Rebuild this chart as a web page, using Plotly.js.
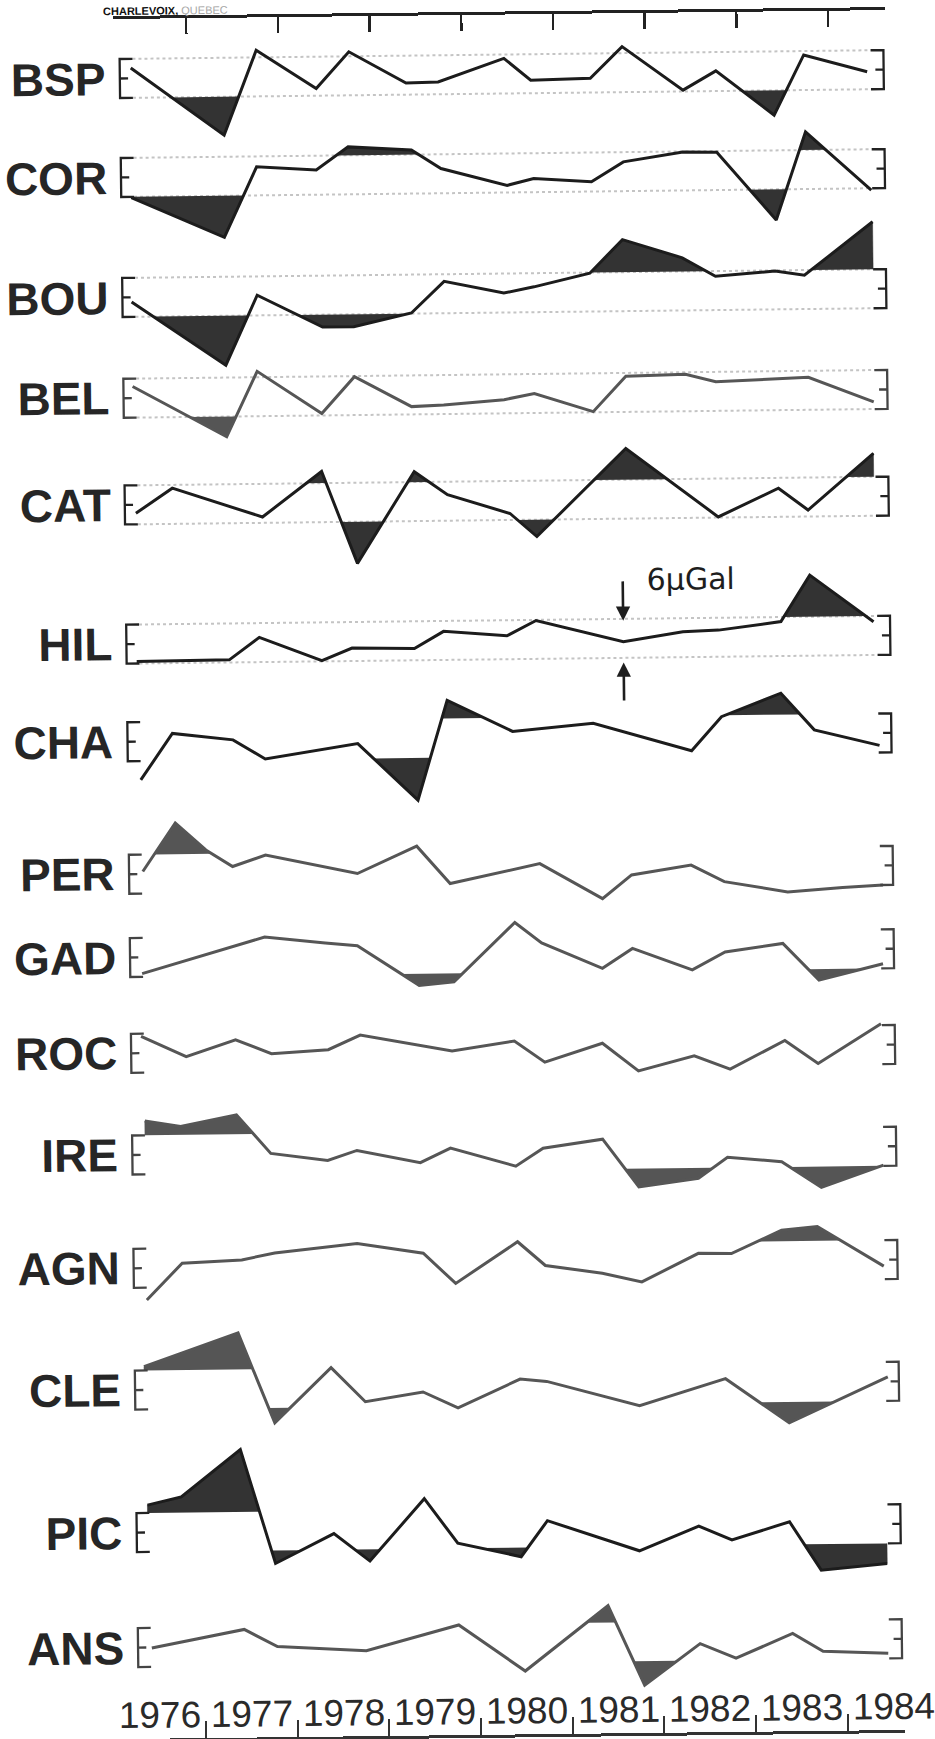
<!DOCTYPE html>
<html>
<head>
<meta charset="utf-8">
<script src="https://cdn.plot.ly/plotly-3.0.1.min.js"></script>
<style>
html,body{margin:0;padding:0;background:#fff;overflow:hidden;}
#wrap{width:935px;height:1739px;transform:rotate(-0.665deg);transform-origin:467.5px 869.5px;background:#fff;}
#chart{width:935px;height:1739px;}
</style>
</head>
<body>
<div id="wrap"><div id="chart"></div></div>
<script>
// ---------------- data (years, gravity change in µGal) ----------------
const stationNames = ['BSP','COR','BOU','BEL','CAT','HIL','CHA','PER','GAD','ROC','IRE','AGN','CLE','PIC','ANS'];
const yearLabels = ['1976','1977','1978','1979','1980','1981','1982','1983','1984'];
const yearTicks = [1977,1978,1979,1980,1981,1982,1983,1984];

const BSP_t = [1976.39,1977.40,1977.76,1978.41,1978.77,1979.39,1979.74,1980.46,1980.75,1981.40,1981.75,1982.41,1982.77,1983.40,1983.73,1984.42];
const BSP_g = [1.6,-8.9,4.1,-1.9,3.7,-1.2,-1.1,2.4,-1.0,-0.8,4.0,-2.8,0.1,-6.8,2.4,-0.3];
const BSP_s = [1,13];

const COR_t = [1976.38,1977.39,1977.75,1978.40,1978.75,1979.44,1979.76,1980.48,1980.77,1981.40,1981.75,1982.40,1982.77,1983.41,1983.74,1984.45];
const COR_g = [-3.1,-9.4,1.4,0.8,4.3,3.7,0.8,-1.9,-0.9,-1.5,1.5,2.9,2.8,-7.7,5.8,-3.3];
const COR_s = [0,1,4,5,13,14];

const BOU_t = [1976.37,1977.39,1977.74,1978.45,1978.79,1979.42,1979.78,1980.43,1980.76,1981.37,1981.73,1982.38,1982.74,1983.39,1983.71,1984.46];
const BOU_g = [-0.7,-10.6,0.1,-4.9,-4.9,-2.9,1.9,0.0,0.9,2.9,8.0,5.1,2.2,2.9,2.2,10.3];
const BOU_s = [1,3,4,10,11,15];

const BEL_t = [1976.37,1977.39,1977.73,1978.43,1978.79,1979.41,1979.76,1980.42,1980.75,1981.39,1981.75,1982.40,1982.73,1983.38,1983.74,1984.45];
const BEL_g = [1.8,-6.1,3.9,-2.7,2.9,-1.8,-1.6,-0.9,0.0,-2.9,2.5,2.7,1.5,1.8,2.0,-1.9];
const BEL_s = [1];

const CAT_t = [1976.39,1976.79,1977.77,1978.42,1978.80,1979.43,1979.79,1980.47,1980.76,1981.74,1982.74,1983.40,1983.72,1984.44];
const CAT_g = [-1.3,2.5,-2.1,4.8,-9.4,4.6,1.0,-2.0,-5.6,7.8,-2.9,1.4,-2.0,6.6];
const CAT_s = [3,4,5,8,9,13];

const HIL_t = [1976.38,1977.39,1977.72,1978.40,1978.73,1979.41,1979.73,1980.42,1980.74,1981.69,1982.34,1982.73,1983.41,1983.73,1984.42];
const HIL_g = [-2.7,-2.6,0.8,-2.9,-1.0,-1.2,1.4,0.6,2.9,-0.5,0.9,1.1,2.3,9.4,2.1];
const HIL_s = [13];

const CHA_t = [1976.41,1976.76,1977.42,1977.77,1978.78,1979.43,1979.76,1980.47,1981.35,1982.42,1982.75,1983.40,1983.76,1984.47];
const CHA_g = [-5.9,1.2,0.1,-2.9,-0.7,-9.5,5.8,0.9,2.0,-2.4,2.8,6.3,0.6,-1.9];
const CHA_s = [5,6,11];

const PER_t = [1976.42,1976.78,1977.11,1977.40,1977.76,1978.76,1979.41,1979.77,1980.75,1981.43,1981.75,1982.40,1982.76,1983.45,1984.05,1984.49];
const PER_g = [0.4,7.8,3.6,1.0,2.7,-0.3,3.8,-2.0,0.9,-4.6,-1.0,0.4,-2.2,-3.9,-3.3,-3.0];
const PER_s = [1];

const GAD_t = [1976.40,1977.74,1978.40,1978.75,1979.42,1979.80,1980.47,1980.76,1981.42,1981.75,1982.40,1982.76,1983.39,1983.78,1984.48];
const GAD_g = [-2.5,2.9,1.9,1.4,-4.8,-4.3,4.7,1.5,-2.5,0.5,-2.9,-0.2,1.0,-4.7,-2.3];
const GAD_s = [4,5,13];

const ROC_t = [1976.38,1976.87,1977.41,1977.80,1978.42,1978.77,1979.77,1980.45,1980.78,1981.41,1981.80,1982.41,1982.80,1983.40,1983.76,1984.45];
const ROC_g = [2.6,-0.6,1.9,-0.3,0.2,2.4,-0.2,1.2,-2.1,0.7,-3.6,-1.4,-3.5,0.8,-2.8,3.2];
const ROC_s = [];

const IRE_t = [1976.41,1976.80,1977.41,1977.78,1978.40,1978.72,1979.41,1979.74,1980.45,1980.75,1981.40,1981.79,1982.44,1982.76,1983.35,1983.78,1984.46];
const IRE_g = [5.2,4.3,6.0,0.0,-1.2,0.3,-1.7,0.5,-2.4,0.3,1.6,-5.8,-4.6,-1.4,-2.2,-6.2,-2.9];
const IRE_s = [0,1,2,11,12,15];

const AGN_t = [1976.41,1976.80,1977.45,1977.81,1978.71,1979.43,1979.78,1980.46,1980.76,1981.38,1981.81,1982.43,1982.79,1983.34,1983.73,1984.45];
const AGN_g = [-4.9,0.7,1.1,2.1,3.4,1.8,-2.9,3.4,-0.3,-1.6,-3.0,1.3,1.2,4.7,5.2,-1.0];
const AGN_s = [13,14];

const CLE_t = [1976.37,1977.40,1977.79,1978.41,1978.78,1979.41,1979.79,1980.47,1980.76,1981.77,1982.71,1983.40,1984.48];
const CLE_g = [3.6,8.6,-5.3,3.1,-2.2,-0.8,-3.3,1.0,0.6,-3.3,0.7,-6.2,0.7];
const CLE_s = [0,1,2,11];

const PIC_t = [1976.39,1976.76,1977.41,1977.78,1978.42,1978.81,1979.41,1979.77,1980.46,1980.75,1981.75,1982.40,1982.76,1983.39,1983.73,1984.45];
const PIC_g = [4.2,5.4,12.6,-5.0,-0.5,-4.8,4.7,-2.2,-4.4,1.1,-3.7,0.0,-2.2,0.5,-7.0,-6.1];
const PIC_s = [0,1,2,3,5,8,14,15];

const ANS_t = [1976.42,1977.43,1977.79,1978.76,1979.77,1980.49,1981.40,1981.79,1982.40,1982.79,1983.41,1983.74,1984.45];
const ANS_g = [-0.1,2.6,-0.1,-0.9,2.9,-4.3,5.6,-6.7,-0.4,-2.7,1.0,-1.8,-2.2];
const ANS_s = [6,7];

const BAND = 3;            // half-width of the bracket band, µGal
const SCALE_LABEL = '6μGal';
const TITLE_TEXT = 'CHARLEVOIX,';
const TITLE_TEXT2 = 'QUEBEC';

// ---------------- layout constants (positions / styles) ----------------
const FIG_W = 935, FIG_H = 1739, PX = 6.5;
const U0 = 123, U1 = 895, YR0 = 1976.204, YR1 = 1984.623;
const rowCenterPx = [74.5,173.5,293.5,394.3,501,640.2,737.8,870.3,953.6,1049.4,1151.1,1264.4,1386.2,1528.7,1643.7];
const rowDark = [true,true,true,false,true,true,true,false,false,false,false,false,false,true,false];
const rowDots = [true,true,true,true,true,true,false,false,false,false,false,false,false,false,false];
const BR_L = 1976.27, BR_R = 1984.60, BR_TICK = 0.14, BR_MID = 0.09;
const LABEL_RIGHT = 117;

const series = [
  {t: BSP_t, g: BSP_g, s: BSP_s}, {t: COR_t, g: COR_g, s: COR_s}, {t: BOU_t, g: BOU_g, s: BOU_s},
  {t: BEL_t, g: BEL_g, s: BEL_s}, {t: CAT_t, g: CAT_g, s: CAT_s}, {t: HIL_t, g: HIL_g, s: HIL_s},
  {t: CHA_t, g: CHA_g, s: CHA_s}, {t: PER_t, g: PER_g, s: PER_s}, {t: GAD_t, g: GAD_g, s: GAD_s},
  {t: ROC_t, g: ROC_g, s: ROC_s}, {t: IRE_t, g: IRE_g, s: IRE_s}, {t: AGN_t, g: AGN_g, s: AGN_s},
  {t: CLE_t, g: CLE_g, s: CLE_s}, {t: PIC_t, g: PIC_g, s: PIC_s}, {t: ANS_t, g: ANS_g, s: ANS_s}
];

// excursions of the line beyond +/-lim, as closed polygons
function excursions(t, g, lim, up) {
  const out = []; let cur = null;
  const outside = v => up ? v > lim : v < lim;
  for (let i = 0; i < t.length; i++) {
    if (outside(g[i])) {
      if (!cur) {
        cur = {x: [], y: [], idx: []};
        if (i === 0) { cur.x.push(t[0]); cur.y.push(lim); }
        else {
          const f = (lim - g[i-1]) / (g[i] - g[i-1]);
          cur.x.push(t[i-1] + f * (t[i] - t[i-1])); cur.y.push(lim);
        }
      }
      cur.x.push(t[i]); cur.y.push(g[i]); cur.idx.push(i);
    } else if (cur) {
      const f = (lim - g[i-1]) / (g[i] - g[i-1]);
      cur.x.push(t[i-1] + f * (t[i] - t[i-1])); cur.y.push(lim);
      out.push(cur); cur = null;
    }
  }
  if (cur) { cur.x.push(t[t.length-1]); cur.y.push(lim); out.push(cur); }
  return out;
}

const fills = [], lines = [], shapes = [], annotations = [];
const layout = {
  width: FIG_W, height: FIG_H,
  margin: {l: 0, r: 0, t: 0, b: 0, pad: 0},
  paper_bgcolor: '#ffffff', plot_bgcolor: 'rgba(0,0,0,0)',
  showlegend: false,
  font: {family: 'Liberation Sans, Arial, sans-serif', color: '#1e1e1e'},
  xaxis: {
    domain: [U0 / FIG_W, U1 / FIG_W], range: [YR0, YR1],
    anchor: 'free', position: 1 - 13 / FIG_H, side: 'top',
    showline: true, linewidth: 3, linecolor: '#222',
    ticks: 'inside', ticklen: 16, tickwidth: 2.5, tickcolor: '#222',
    tickmode: 'array', tickvals: yearTicks, showticklabels: false,
    showgrid: false, zeroline: false, fixedrange: true
  },
  xaxis2: {
    domain: [U0 / FIG_W, U1 / FIG_W], range: [YR0, YR1], overlaying: 'x',
    anchor: 'free', position: 1 - 1736 / FIG_H, side: 'bottom',
    showline: true, linewidth: 3, linecolor: '#333',
    ticks: 'inside', ticklen: 17, tickwidth: 2, tickcolor: '#333',
    tickmode: 'array', tickvals: yearTicks, showticklabels: false,
    showgrid: false, zeroline: false, fixedrange: true
  }
};

series.forEach((st, i) => {
  const yid = i === 0 ? 'y' : 'y' + (i + 1);
  const ykey = i === 0 ? 'yaxis' : 'yaxis' + (i + 1);
  const c = rowCenterPx[i];
  const up = Math.min(100, c - 1), dn = Math.min(100, FIG_H - 1 - c);
  layout[ykey] = {
    domain: [Math.max(0, 1 - (c + dn) / FIG_H), Math.min(1, 1 - (c - up) / FIG_H)],
    range: [-dn / PX, up / PX], visible: false, fixedrange: true, anchor: 'x'
  };
  const lineCol = rowDark[i] ? '#1c1c1c' : '#565656';
  const fillCol = rowDark[i] ? '#333333' : '#555555';

  // shaded excursions beyond the band
  [true, false].forEach(upSide => {
    excursions(st.t, st.g, upSide ? BAND : -BAND, upSide).forEach(run => {
      if (run.idx.some(k => st.s.indexOf(k) >= 0)) {
        fills.push({type: 'scatter', mode: 'lines', x: run.x, y: run.y, xaxis: 'x', yaxis: yid,
          fill: 'toself', fillcolor: fillCol, line: {width: 0.5, color: fillCol}, hoverinfo: 'skip'});
      }
    });
  });

  lines.push({type: 'scatter', mode: 'lines', x: st.t, y: st.g, xaxis: 'x', yaxis: yid,
    line: {color: lineCol, width: 3}, hoverinfo: 'skip'});

  // brackets
  const bCol = rowDark[i] ? '#222' : '#444';
  shapes.push({type: 'path', xref: 'x', yref: yid, layer: 'above',
    path: `M ${BR_L + BR_TICK},${BAND} L ${BR_L},${BAND} L ${BR_L},${-BAND} L ${BR_L + BR_TICK},${-BAND} M ${BR_L},0 L ${BR_L + BR_MID},0`,
    line: {color: bCol, width: 2.3}});
  shapes.push({type: 'path', xref: 'x', yref: yid, layer: 'above',
    path: `M ${BR_R - BR_TICK},${BAND} L ${BR_R},${BAND} L ${BR_R},${-BAND} L ${BR_R - BR_TICK},${-BAND} M ${BR_R},0 L ${BR_R - BR_MID},0`,
    line: {color: bCol, width: 2.3}});
  if (rowDots[i]) {
    [BAND, -BAND].forEach(yv => shapes.push({type: 'line', xref: 'x', yref: yid, layer: 'below',
      x0: BR_L + BR_TICK, x1: BR_R - BR_TICK, y0: yv, y1: yv,
      line: {color: '#c4c4c4', width: 2, dash: 'dot'}}));
  }

  annotations.push({xref: 'paper', yref: yid, x: LABEL_RIGHT / FIG_W, y: 0, xanchor: 'right', yanchor: 'middle',
    text: stationNames[i], showarrow: false,
    font: {family: 'Liberation Sans, Arial, sans-serif', size: 46, weight: 700, color: '#262626'}});
});

// year labels between the bottom ticks
yearLabels.forEach((lab, k) => {
  annotations.push({xref: 'x', yref: 'paper', x: 1976.5 + k, y: 1 - 1711 / FIG_H,
    xanchor: 'center', yanchor: 'middle', text: lab, showarrow: false, borderpad: 0,
    font: {family: 'Liberation Sans, Arial, sans-serif', size: 37, color: '#2a2a2a'}});
});

// 6 µGal scale arrows on HIL
const hilIdx = 9;
annotations.push({xref: 'x', yref: 'y6', axref: 'x', ayref: 'y6',
  x: HIL_t[hilIdx], y: HIL_g[hilIdx] + 3.2, ax: HIL_t[hilIdx], ay: HIL_g[hilIdx] + 9.5,
  text: '', showarrow: true, arrowhead: 2, arrowsize: 1.1, arrowwidth: 2.6, arrowcolor: '#1e1e1e'});
annotations.push({xref: 'x', yref: 'y6', axref: 'x', ayref: 'y6',
  x: HIL_t[hilIdx], y: HIL_g[hilIdx] - 3.2, ax: HIL_t[hilIdx], ay: HIL_g[hilIdx] - 9.3,
  text: '', showarrow: true, arrowhead: 2, arrowsize: 1.1, arrowwidth: 2.6, arrowcolor: '#1e1e1e'});
annotations.push({xref: 'x', yref: 'y6', x: 1981.93, y: 9.0, xanchor: 'left', yanchor: 'middle',
  text: SCALE_LABEL, showarrow: false,
  font: {family: 'DejaVu Sans, Liberation Sans, sans-serif', size: 30, color: '#1e1e1e'}});

// small title strip at the top edge
annotations.push({xref: 'paper', yref: 'paper', x: 112 / FIG_W, y: 1,
  xanchor: 'left', yanchor: 'top', showarrow: false, borderpad: 0,
  text: '<b>' + TITLE_TEXT + '</b> <span style="color:#a8a8a8">' + TITLE_TEXT2 + '</span>',
  font: {family: 'Liberation Sans, Arial, sans-serif', size: 11, color: '#111'}});

layout.shapes = shapes;
layout.annotations = annotations;

const axisHolder = {type: 'scatter', mode: 'lines', x: [YR0], y: [null], xaxis: 'x2', yaxis: 'y', hoverinfo: 'skip'};

Plotly.newPlot('chart', [axisHolder].concat(fills, lines), layout, {staticPlot: true, displayModeBar: false});
</script>
</body>
</html>
